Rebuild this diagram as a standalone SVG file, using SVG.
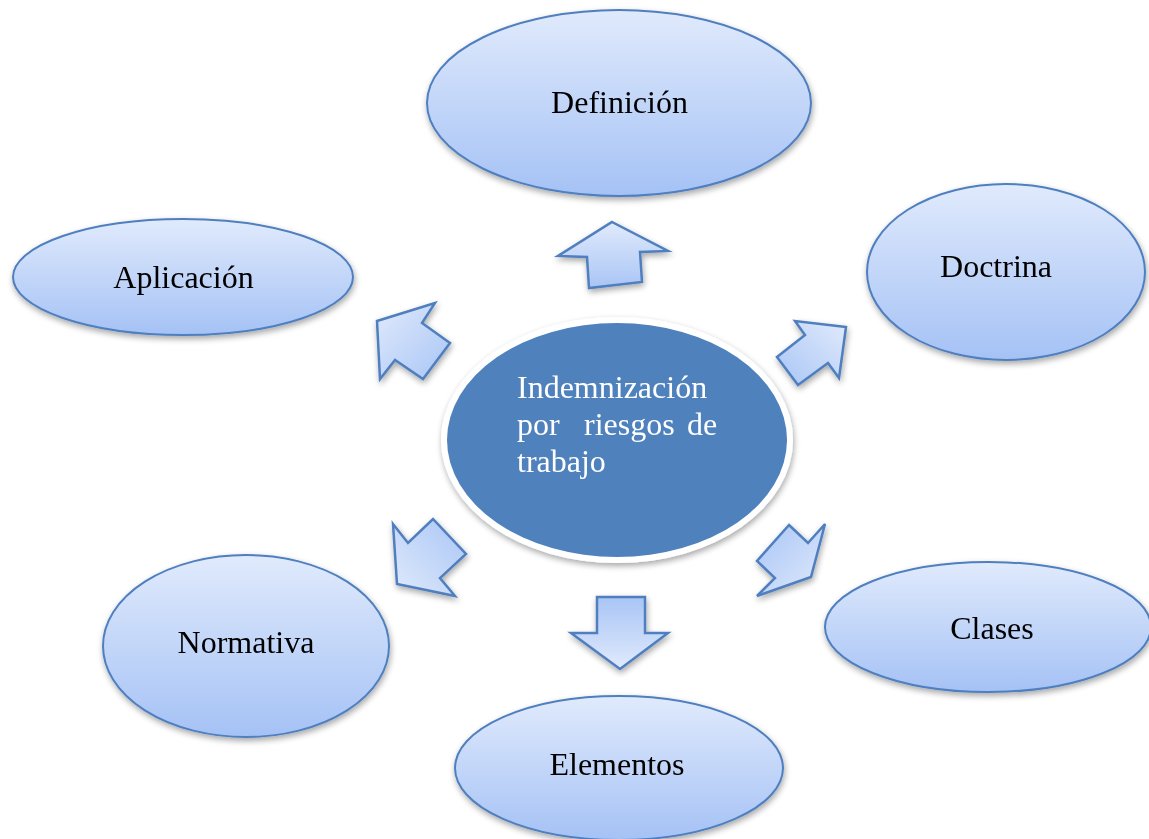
<svg xmlns="http://www.w3.org/2000/svg" width="1149" height="839" viewBox="0 0 1149 839">
<defs>
<linearGradient id="gE" x1="0" y1="0" x2="0" y2="1">
<stop offset="0" stop-color="#e0eafc"/>
<stop offset="1" stop-color="#a5c2f5"/>
</linearGradient>
<linearGradient id="gUp" x1="0" y1="1" x2="0" y2="0">
<stop offset="0" stop-color="#a9c5f5"/>
<stop offset="1" stop-color="#e0eafc"/>
</linearGradient>
<linearGradient id="gDown" x1="0" y1="0" x2="0" y2="1">
<stop offset="0" stop-color="#a9c5f5"/>
<stop offset="1" stop-color="#e0eafc"/>
</linearGradient>
<linearGradient id="gUL" x1="0" y1="0" x2="1" y2="1">
<stop offset="0" stop-color="#e0eafc"/>
<stop offset="1" stop-color="#a9c5f5"/>
</linearGradient>
<linearGradient id="gUR" x1="1" y1="0" x2="0" y2="1">
<stop offset="0" stop-color="#e0eafc"/>
<stop offset="1" stop-color="#a9c5f5"/>
</linearGradient>
<linearGradient id="gLL" x1="0" y1="1" x2="1" y2="0">
<stop offset="0" stop-color="#e0eafc"/>
<stop offset="1" stop-color="#a9c5f5"/>
</linearGradient>
<linearGradient id="gLR" x1="1" y1="1" x2="0" y2="0">
<stop offset="0" stop-color="#e0eafc"/>
<stop offset="1" stop-color="#a9c5f5"/>
</linearGradient>
<filter id="sh" x="-20%" y="-20%" width="140%" height="140%">
<feGaussianBlur in="SourceAlpha" stdDeviation="3"/>
<feOffset dx="1" dy="3" result="b"/>
<feComponentTransfer><feFuncA type="linear" slope="0.35"/></feComponentTransfer>
<feMerge><feMergeNode/><feMergeNode in="SourceGraphic"/></feMerge>
</filter>
</defs>
<style>
.node{fill:url(#gE);stroke:#4f7fbf;stroke-width:2}
.arr{stroke:#4f7fbf;stroke-width:2.5;stroke-linejoin:miter}
.lbl{font-family:"Liberation Serif","Times New Roman",serif;font-size:32px;fill:#000;text-anchor:middle}
.ctr{font-family:"Liberation Serif","Times New Roman",serif;font-size:32px;fill:#ffffff}
</style>
<rect width="1149" height="839" fill="#ffffff"/>

<g id="connectors" filter="url(#sh)">
<polygon class="arr" fill="url(#gUp)" points="612,222 668,251 640,252 642,282 589,288 587,257 558,256"/>
<polygon class="arr" fill="url(#gUL)" points="377,321 435,303 422,323 450,343 423,379 395,360 380,379"/>
<polygon class="arr" fill="url(#gUR)" points="846,327 795,321 805,335 777,357 798,385 828,363 839,378"/>
<polygon class="arr" fill="url(#gLL)" points="393,524 408,543 433,519 466,554 440,578 455,596 397,584"/>
<polygon class="arr" fill="url(#gLR)" points="789,525 808,543 825,524 811,577 757,596 775,578 757,561"/>
<polygon class="arr" fill="url(#gDown)" points="597,597 645,597 645,633 668,633 620,669 571,633 597,633"/>
</g>

<g id="center" filter="url(#sh)">
<ellipse cx="617" cy="440" rx="176" ry="123" fill="#ffffff"/>
<ellipse cx="617" cy="440" rx="170" ry="117" fill="#4f81bd"/>
<text class="ctr" x="517" y="398">Indemnización</text>
<text class="ctr" y="435"><tspan x="517">por</tspan><tspan x="584">riesgos</tspan><tspan x="687">de</tspan></text>
<text class="ctr" x="517" y="472">trabajo</text>
</g>

<g id="definicion" filter="url(#sh)">
<ellipse class="node" cx="619" cy="103" rx="192" ry="93"/>
<text class="lbl" x="619.5" y="113">Definición</text>
</g>

<g id="doctrina" filter="url(#sh)">
<ellipse class="node" cx="1006" cy="272" rx="139" ry="88"/>
<text class="lbl" x="996" y="277">Doctrina</text>
</g>

<g id="aplicacion" filter="url(#sh)">
<ellipse class="node" cx="183" cy="277" rx="170" ry="58"/>
<text class="lbl" x="183.5" y="288">Aplicación</text>
</g>

<g id="normativa" filter="url(#sh)">
<ellipse class="node" cx="246" cy="646" rx="143" ry="91"/>
<text class="lbl" x="246" y="653">Normativa</text>
</g>

<g id="elementos" filter="url(#sh)">
<ellipse class="node" cx="619" cy="768" rx="164" ry="72"/>
<text class="lbl" x="617" y="775">Elementos</text>
</g>

<g id="clases" filter="url(#sh)">
<ellipse class="node" cx="988" cy="627" rx="163" ry="65"/>
<text class="lbl" x="992" y="639">Clases</text>
</g>
</svg>
